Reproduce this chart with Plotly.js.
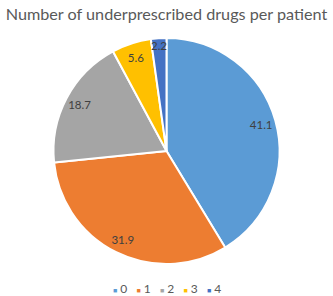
<!DOCTYPE html>
<html><head><meta charset="utf-8">
<script src="https://cdn.plot.ly/plotly-3.0.1.min.js"></script>
<style>html,body{margin:0;padding:0;background:#fff}#chart{width:333px;height:296px}</style>
</head><body><div id="chart"></div>
<script>
var categories = ['0', '1', '2', '3', '4'];
var values = [41.1, 31.9, 18.7, 5.6, 2.2];
var colors = ['#5B9BD5', '#ED7D31', '#A5A5A5', '#FFC000', '#4472C4'];
var valueLabels = ['41.1', '31.9', '18.7', '5.6', '2.2'];
var titleText = 'Number of underprescribed drugs per patient';

var FONT = 'Lato, "Open Sans", sans-serif';

// filled slices
var slices = {
  type: 'pie',
  labels: categories,
  values: values,
  textinfo: 'none',
  sort: false,
  direction: 'clockwise',
  rotation: 0,
  marker: {colors: colors, line: {color: '#ffffff', width: 2}},
  hoverinfo: 'none',
  showlegend: false
};
// label ring (same data, transparent) to place value labels near the rim
var labelsRing = {
  type: 'pie',
  labels: categories,
  values: values,
  text: valueLabels,
  textinfo: 'text',
  textposition: 'inside',
  insidetextorientation: 'horizontal',
  hole: 0.74,
  sort: false,
  direction: 'clockwise',
  rotation: 0,
  marker: {colors: categories.map(function(){return 'rgba(0,0,0,0)';}), line: {width: 0}},
  textfont: {family: FONT, size: 11.5, color: '#404040'},
  hoverinfo: 'none',
  showlegend: false
};

var legendText = categories.map(function(c, i){
  return '<span style="color:' + colors[i] + ';font-size:7px">\u25A0</span> ' + c;
}).join('\u00A0\u00A0\u00A0');

var layout = {
  width: 333, height: 296,
  margin: {l: 0, r: 0, t: 38, b: 32},
  paper_bgcolor: '#fff',
  title: {text: titleText, x: 0.5, xanchor: 'center', y: 0.952, yanchor: 'middle', yref: 'container',
          font: {family: FONT, size: 16.2, color: '#595959'}},
  showlegend: false,
  uniformtext: {mode: 'show', minsize: 11.5},
  annotations: [{
    text: legendText, showarrow: false, xref: 'paper', yref: 'paper',
    x: 0.5, xanchor: 'center', y: -0.108, yanchor: 'middle',
    font: {family: FONT, size: 12, color: '#595959'}
  }]
};
Plotly.newPlot('chart', [slices, labelsRing], layout, {displayModeBar: false, staticPlot: true});
</script></body></html>
